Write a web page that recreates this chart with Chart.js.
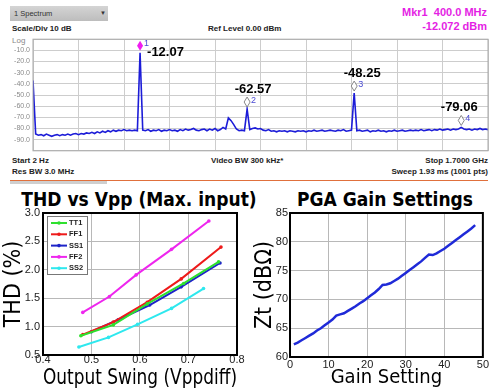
<!DOCTYPE html>
<html>
<head>
<meta charset="utf-8">
<script src="https://cdn.jsdelivr.net/npm/chart.js@4.4.0/dist/chart.umd.min.js"></script>
<style>
    body { margin: 0; width: 490px; height: 392px; background: #fff; position: relative; overflow: hidden;
           font-family: 'Liberation Sans', Arial, sans-serif; }
    canvas { position: absolute; }
    .t { position: absolute; white-space: nowrap; line-height: 1; }
    .b { font-weight: bold; font-size: 8px; color: #222; }
    .ttl { position: absolute; white-space: nowrap; line-height: 1; transform: translateX(-50%);
           font-family: 'DejaVu Sans Condensed', sans-serif; font-weight: bold; font-size: 19px; color: #000; }
</style>
</head>
<body>

<div style="position:absolute;left:10px;top:6px;width:98px;height:15px;background:linear-gradient(#d4d4d4,#bdbdbd);"></div>
<div class="t" style="left:14px;top:10px;font-size:7.5px;color:#333;">1 Spectrum</div>
<div class="t" style="left:100px;top:10px;font-size:6px;color:#333;">▼</div>
<div class="t b" style="left:12px;top:25px;">Scale/Div 10 dB</div>
<div class="t b" style="left:208px;top:25px;">Ref Level 0.00 dBm</div>
<div class="t" style="right:3px;top:7px;font-size:11px;font-weight:bold;color:#e41ee4;">Mkr1&nbsp; 400.0 MHz</div>
<div class="t" style="right:3px;top:21px;font-size:11px;font-weight:bold;color:#e41ee4;">-12.072 dBm</div>
<div class="t" style="left:12px;top:37px;font-size:8px;color:#888;">Log</div>
<div class="t b" style="left:12px;top:157px;">Start 2 Hz</div>
<div class="t b" style="left:211px;top:157px;">Video BW 300 kHz*</div>
<div class="t b" style="right:2px;top:157px;">Stop 1.7000 GHz</div>
<div class="t b" style="left:12px;top:168px;">Res BW 3.0 MHz</div>
<div class="t b" style="right:2px;top:168px;">Sweep 1.93 ms (1001 pts)</div>
<div style="position:absolute;left:10px;top:180px;width:478px;height:1px;background:#e0703c;"></div>
<div style="position:absolute;left:10px;top:181px;width:97px;height:3px;background:#cfcfcf;"></div>

<div class="ttl" style="left:139px;top:190px;">THD vs Vpp (Max. input)</div>
<div class="ttl" style="left:385px;top:190px;">PGA Gain Settings</div>

<canvas id="spectrum" width="490" height="126" style="left:0;top:32px;"></canvas>
<canvas id="thd" width="245" height="207" style="left:0;top:185px;"></canvas>
<canvas id="pga" width="245" height="207" style="left:245px;top:185px;"></canvas>

<script>
// spectrum analyzer sweep, 0 .. 1700 MHz, one level every 10 MHz (dBm)
const sweepStartMHz = 0;
const sweepStopMHz = 1700;
const spectrumLevels = [
    -37, -85, -86, -85.5, -86.5, -85, -86, -87, -86, -85.5,
    -86.5, -85.5, -86, -85, -86, -85, -84.5, -85.5, -84.5, -85,
    -84, -84.5, -83.5, -84.5, -83, -84, -82.5, -83.5, -82, -83,
    -81.5, -82.5, -81.5, -82, -81, -82, -81.5, -82, -81.5, -82,
    -12.07, -81.5, -82, -81, -82.5, -81.5, -82, -81, -82.5, -81.5,
    -82, -81, -82, -81.5, -82.5, -81, -82, -80.5, -81.5, -81,
    -80, -81.5, -82, -81, -80.5, -82, -80.5, -81.5, -80, -82,
    -81, -79, -80.5, -70.5, -73, -76.5, -80.5, -82, -81.5, -82,
    -62.57, -81, -80, -79.5, -80.5, -80, -81.5, -82, -81, -82.5,
    -82, -83, -82, -82.5, -82, -83, -82, -82.5, -83, -82,
    -82.5, -82, -83, -82, -82.5, -81.5, -82.5, -82, -81.5, -82.5,
    -82, -81.5, -82, -82.5, -81.5, -82, -81, -82.5, -82, -81.5,
    -48.25, -82, -81.5, -82.5, -82, -81.5, -83, -82, -82.5, -81.5,
    -82.5, -82, -83, -82, -82.5, -81.5, -82.5, -82, -81.5, -82.5,
    -82, -81.5, -82, -81.5, -82, -81, -82, -81.5, -81, -82,
    -81, -81.5, -80.5, -81.5, -81, -80.5, -81.5, -80.5, -81, -80.5,
    -79.06, -80.5, -81, -80.5, -81.5, -80.5, -81, -80, -81, -80.5,
    -81
];
const markerFreqs = [400, 800, 1200, 1600];
const markerLevels = [-12.07, -62.57, -48.25, -79.06];

// THD vs output swing
const tt1Swing = [0.478, 0.545, 0.615, 0.69, 0.762];
const tt1Thd   = [0.84, 1.03, 1.40, 1.76, 2.14];
const ff1Swing = [0.482, 0.545, 0.615, 0.685, 0.767];
const ff1Thd   = [0.86, 1.08, 1.43, 1.84, 2.40];
const ss1Swing = [0.50, 0.555, 0.62, 0.685, 0.765];
const ss1Thd   = [0.91, 1.12, 1.38, 1.70, 2.12];
const ff2Swing = [0.482, 0.537, 0.592, 0.665, 0.742];
const ff2Thd   = [1.25, 1.53, 1.91, 2.36, 2.86];
const ss2Swing = [0.474, 0.535, 0.595, 0.665, 0.731];
const ss2Thd   = [0.64, 0.81, 1.04, 1.32, 1.67];

// PGA transimpedance per gain code
const gainSetting = [
    1, 2, 3, 4, 5, 6, 7, 8, 9, 10, 11, 12, 13, 14, 15, 16,
    17, 18, 19, 20, 21, 22, 23, 24, 25, 26, 27, 28, 29, 30, 31, 32,
    33, 34, 35, 36, 37, 38, 39, 40, 41, 42, 43, 44, 45, 46, 47, 48
];
const gainZt = [
    62.2, 62.5, 62.9, 63.3, 63.7, 64.1, 64.6, 65.0, 65.5, 66.0, 66.5, 67.2, 67.4, 67.6, 68.0, 68.4,
    68.8, 69.3, 69.7, 70.2, 70.7, 71.2, 71.8, 72.5, 72.6, 72.8, 73.2, 73.6, 74.1, 74.6, 75.1, 75.6,
    76.1, 76.6, 77.2, 77.8, 77.7, 78.0, 78.4, 78.8, 79.3, 79.8, 80.3, 80.8, 81.3, 81.8, 82.3, 82.9
];

const NARROW = "'DejaVu Sans Condensed', sans-serif";
Chart.defaults.font.family = "'Liberation Sans', Arial, sans-serif";
Chart.defaults.color = '#000';

const pts = (xs, ys) => xs.map((x, i) => ({x: x, y: ys[i]}));

// box round the plot area
const frame = {
    id: 'frame',
    afterDraw(chart, args, opts) {
        const a = chart.chartArea, ctx = chart.ctx;
        ctx.save();
        ctx.strokeStyle = opts.color || '#000';
        ctx.lineWidth = opts.width || 1;
        ctx.strokeRect(a.left, a.top, a.right - a.left, a.bottom - a.top);
        ctx.restore();
    }
};

// analyzer markers: diamond, number and readout above each peak
const markers = {
    id: 'markers',
    afterDatasetsDraw(chart) {
        const ctx = chart.ctx, xs = chart.scales.x, ys = chart.scales.y;
        const labelDx = [7, 6, 8, -2];
        ctx.save();
        markerFreqs.forEach((f, i) => {
            const px = xs.getPixelForValue(f), py = ys.getPixelForValue(markerLevels[i]);
            const dy = py - 7;
            ctx.beginPath();
            ctx.moveTo(px, dy - 5); ctx.lineTo(px + 3, dy); ctx.lineTo(px, dy + 5); ctx.lineTo(px - 3, dy); ctx.closePath();
            if (i === 0) {
                ctx.fillStyle = '#f01cf0'; ctx.fill();
            } else {
                ctx.fillStyle = '#fff'; ctx.fill();
                ctx.strokeStyle = '#888'; ctx.lineWidth = 1; ctx.stroke();
            }
            ctx.fillStyle = '#4a4ad4';
            ctx.font = '9px Liberation Sans';
            ctx.textAlign = 'left'; ctx.textBaseline = 'middle';
            ctx.fillText(String(i + 1), px + 4, dy - 2);
            ctx.fillStyle = '#000';
            ctx.font = 'bold 13px Liberation Sans';
            if (i === 0) {
                ctx.fillText(markerLevels[i].toFixed(2), px + labelDx[i], py);
            } else {
                ctx.textAlign = 'center';
                ctx.fillText(markerLevels[i].toFixed(2), px + labelDx[i], py - 20);
            }
        });
        ctx.restore();
    }
};

// matlab style legend box in the top left corner
const thdLegend = {
    id: 'thdLegend',
    afterDraw(chart) {
        const ctx = chart.ctx, a = chart.chartArea;
        const x = a.left + 4, y = a.top + 3, w = 40, h = 58;
        ctx.save();
        ctx.fillStyle = '#fff';
        ctx.fillRect(x, y, w, h);
        ctx.strokeStyle = '#777'; ctx.lineWidth = 1;
        ctx.strokeRect(x + 0.5, y + 0.5, w, h);
        chart.data.datasets.forEach((ds, i) => {
            const cy = y + 7 + i * 11.3;
            ctx.strokeStyle = ds.borderColor; ctx.lineWidth = 2;
            ctx.beginPath(); ctx.moveTo(x + 4, cy); ctx.lineTo(x + 20, cy); ctx.stroke();
            ctx.fillStyle = ds.borderColor;
            ctx.beginPath(); ctx.arc(x + 12, cy, 1.8, 0, Math.PI * 2); ctx.fill();
            ctx.fillStyle = '#222';
            ctx.font = 'bold 7.5px Liberation Sans';
            ctx.textBaseline = 'middle';
            ctx.fillText(ds.label, x + 22, cy);
        });
        ctx.restore();
    }
};

const spectrumPoints = spectrumLevels.map((v, i) => ({
    x: sweepStartMHz + i * (sweepStopMHz - sweepStartMHz) / (spectrumLevels.length - 1),
    y: v
}));

new Chart(document.getElementById('spectrum').getContext('2d'), {
    type: 'line',
    data: {
        datasets: [{
            data: spectrumPoints,
            borderColor: '#1c1cd8',
            borderWidth: 1.6,
            pointRadius: 0,
            tension: 0,
        }]
    },
    options: {
        responsive: false,
        animation: false,
        layout: { padding: {top: 5, bottom: 5, left: 0, right: 2} },
        plugins: { legend: {display: false}, tooltip: {enabled: false}, frame: {color: '#a8a8a8', width: 1} },
        scales: {
            x: {
                type: 'linear', min: sweepStartMHz, max: sweepStopMHz,
                ticks: { display: false, stepSize: 170 },
                grid: { color: '#cdcdcd', drawTicks: false },
                border: { display: false },
                afterFit: s => { s.height = 0; },
            },
            y: {
                min: -100, max: 0,
                ticks: {
                    stepSize: 10, padding: 3, color: '#8a8a8a', font: {size: 7},
                    callback: v => (v === 0 || v === -100) ? '' : v.toFixed(1),
                },
                grid: { color: '#cdcdcd', drawTicks: false },
                border: { display: false },
                afterFit: s => { s.width = 33; },
            }
        }
    },
    plugins: [frame, markers]
});

const thdLine = {
    borderWidth: 2,
    pointRadius: 1.8,
    pointBorderWidth: 0,
    tension: 0,
};

new Chart(document.getElementById('thd').getContext('2d'), {
    type: 'line',
    data: {
        datasets: [
            { ...thdLine, label: 'TT1', data: pts(tt1Swing, tt1Thd), borderColor: '#2ee02e', pointBackgroundColor: '#2ee02e' },
            { ...thdLine, label: 'FF1', data: pts(ff1Swing, ff1Thd), borderColor: '#ee1a1a', pointBackgroundColor: '#ee1a1a' },
            { ...thdLine, label: 'SS1', data: pts(ss1Swing, ss1Thd), borderColor: '#1e24c8', pointBackgroundColor: '#1e24c8' },
            { ...thdLine, label: 'FF2', data: pts(ff2Swing, ff2Thd), borderColor: '#ee26ee', pointBackgroundColor: '#ee26ee' },
            { ...thdLine, label: 'SS2', data: pts(ss2Swing, ss2Thd), borderColor: '#2ee8ee', pointBackgroundColor: '#2ee8ee' },
        ]
    },
    options: {
        responsive: false,
        animation: false,
        layout: { padding: {top: 28, right: 8, bottom: 0, left: 0} },
        plugins: {
            legend: {display: false},
            tooltip: {enabled: false},
            frame: {color: '#000', width: 2},
        },
        scales: {
            x: {
                type: 'linear', min: 0.4, max: 0.8,
                ticks: { stepSize: 0.1, padding: -2, font: {size: 11}, color: '#222', callback: v => v.toFixed(1) },
                grid: { color: '#b8b8b8', borderDash: [1, 2], drawTicks: false },
                border: { display: false },
                title: { display: true, text: 'Output Swing (Vppdiff)', font: {family: NARROW, size: 21}, padding: {top: 0, bottom: 1} },
                afterFit: s => { s.height = 37; },
            },
            y: {
                min: 0.5, max: 3,
                ticks: { stepSize: 0.5, padding: 3, font: {size: 11}, color: '#222' },
                grid: { color: '#b8b8b8', borderDash: [1, 2], drawTicks: false },
                border: { display: false },
                title: { display: true, text: 'THD (%)', font: {family: NARROW, size: 23}, padding: 0 },
                afterFit: s => { s.width = 43; },
            }
        }
    },
    plugins: [frame, thdLegend]
});

new Chart(document.getElementById('pga').getContext('2d'), {
    type: 'line',
    data: {
        datasets: [{
            data: pts(gainSetting, gainZt),
            borderColor: '#1f2ad8',
            borderWidth: 2.5,
            pointRadius: 0,
            tension: 0,
        }]
    },
    options: {
        responsive: false,
        animation: false,
        layout: { padding: {top: 28, right: 5, bottom: 0, left: 0} },
        plugins: {
            legend: {display: false},
            tooltip: {enabled: false},
            frame: {color: '#000', width: 2},
        },
        scales: {
            x: {
                type: 'linear', min: 0, max: 50,
                ticks: { stepSize: 10, padding: 1, font: {size: 11}, color: '#222' },
                grid: { color: '#b8b8b8', borderDash: [1, 2], drawTicks: false },
                border: { display: false },
                title: { display: true, text: 'Gain Setting', font: {family: NARROW, size: 20}, padding: {top: 0, bottom: 2} },
                afterFit: s => { s.height = 35; },
            },
            y: {
                min: 60, max: 85,
                ticks: { stepSize: 5, padding: 2, font: {size: 11}, color: '#222' },
                grid: { color: '#b8b8b8', borderDash: [1, 2], drawTicks: false },
                border: { display: false },
                title: { display: true, text: 'Zt (dBΩ)', font: {family: NARROW, size: 23}, padding: {top: 6, bottom: 0} },
                afterFit: s => { s.width = 45; },
            }
        }
    },
    plugins: [frame]
});
</script>
</body>
</html>
